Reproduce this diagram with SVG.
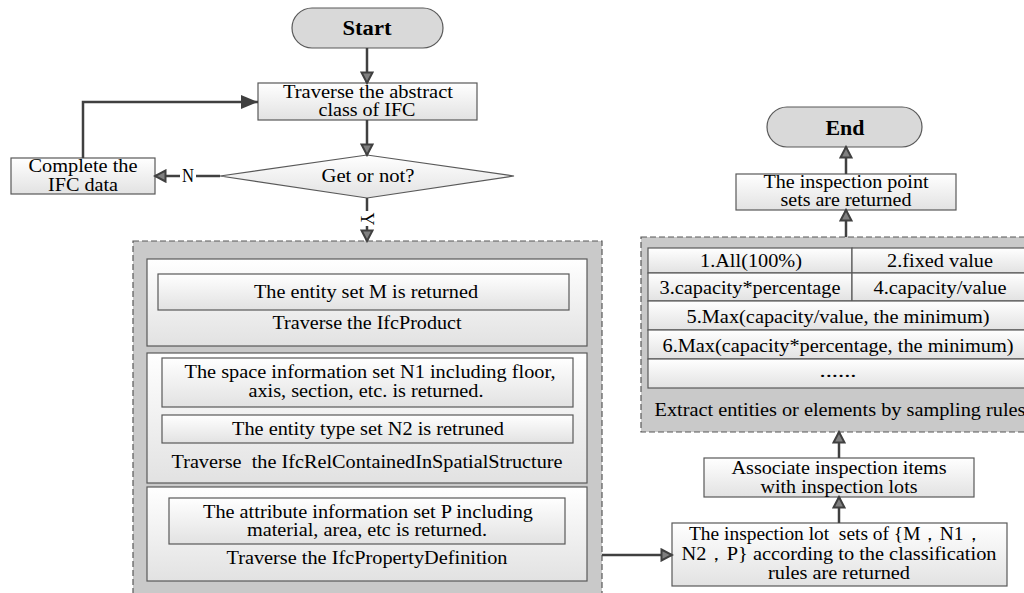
<svg xmlns="http://www.w3.org/2000/svg" width="1024" height="593" viewBox="0 0 1024 593">
<style>
.t{font-family:"Liberation Serif","Times New Roman","DejaVu Serif",serif;font-size:18px;fill:#000;text-anchor:middle}
.b{font-weight:bold;font-size:20px}
.box{fill:url(#g);stroke:#595959;stroke-width:1.2}
.pill{fill:#d9d9d9;stroke:#595959;stroke-width:1.2}
.cont{fill:#c9c9c9;stroke:#595959;stroke-width:1.2;stroke-dasharray:6 3}
.ln{fill:none;stroke:#404040;stroke-width:2.5}
</style>
<defs>
<linearGradient id="g" x1="0" y1="0" x2="0" y2="1">
<stop offset="0" stop-color="#ffffff"/>
<stop offset="1" stop-color="#e2e2e2"/>
</linearGradient>
<marker id="a" markerUnits="userSpaceOnUse" markerWidth="14" markerHeight="14" viewBox="0 0 14 14" refX="12" refY="7" orient="auto">
<path d="M1.5,1.5 L12,7 L1.5,12.5 z" fill="#808080" stroke="#404040" stroke-width="2"/>
</marker>
<marker id="s" markerUnits="userSpaceOnUse" markerWidth="20" markerHeight="16" viewBox="0 0 20 16" refX="18" refY="8" orient="auto">
<path d="M1,1 L18,8 L1,15 z" fill="#404040"/>
</marker>
</defs>
<rect width="1024" height="593" fill="#ffffff"/>

<g id="start">
<rect class="pill" x="292" y="8" width="151" height="40" rx="20"/>
<text class="t b" x="367" y="35" textLength="49" lengthAdjust="spacingAndGlyphs">Start</text>
</g>
<g id="traverse-abstract">
<rect class="box" x="258" y="83" width="219" height="37"/>
<text class="t" x="368" y="98" textLength="170" lengthAdjust="spacingAndGlyphs">Traverse the abstract</text>
<text class="t" x="367" y="116" textLength="97" lengthAdjust="spacingAndGlyphs">class of IFC</text>
</g>
<g id="decision">
<polygon points="220,176 367,155 514,176 367,198" fill="url(#g)" stroke="#595959" stroke-width="1.2"/>
<text class="t" x="368" y="182" textLength="93" lengthAdjust="spacingAndGlyphs">Get or not?</text>
</g>
<g id="complete">
<rect class="box" x="11" y="158" width="144" height="36"/>
<text class="t" x="83" y="172" textLength="109" lengthAdjust="spacingAndGlyphs">Complete the</text>
<text class="t" x="83" y="191" textLength="70" lengthAdjust="spacingAndGlyphs">IFC data</text>
</g>

<g id="ifc-container">
<rect class="cont" x="133" y="241" width="469" height="360"/>
<g id="panel-product">
<rect class="box" x="147" y="259" width="440" height="87"/>
<rect class="box" x="158" y="274" width="411" height="36"/>
<text class="t" x="366" y="298" textLength="224" lengthAdjust="spacingAndGlyphs">The entity set M is returned</text>
<text class="t" x="367" y="329" textLength="189" lengthAdjust="spacingAndGlyphs">Traverse the IfcProduct</text>
</g>
<g id="panel-spatial">
<rect class="box" x="147" y="353" width="440" height="130"/>
<rect class="box" x="162" y="358" width="411" height="49"/>
<text class="t" x="370" y="378" textLength="371" lengthAdjust="spacingAndGlyphs">The space information set N1 including floor,</text>
<text class="t" x="366" y="397" textLength="235" lengthAdjust="spacingAndGlyphs">axis, section, etc. is returned.</text>
<rect class="box" x="162" y="415" width="411" height="28"/>
<text class="t" x="368" y="435" textLength="272" lengthAdjust="spacingAndGlyphs">The entity type set N2 is retruned</text>
<text class="t" x="367" y="468" textLength="391" lengthAdjust="spacingAndGlyphs" xml:space="preserve">Traverse  the IfcRelContainedInSpatialStructure</text>
</g>
<g id="panel-property">
<rect class="box" x="147" y="487" width="440" height="94"/>
<rect class="box" x="169" y="498" width="396" height="46"/>
<text class="t" x="368" y="518" textLength="330" lengthAdjust="spacingAndGlyphs">The attribute information set P including</text>
<text class="t" x="367" y="536" textLength="240" lengthAdjust="spacingAndGlyphs">material, area, etc is returned.</text>
<text class="t" x="367" y="564" textLength="281" lengthAdjust="spacingAndGlyphs">Traverse the IfcPropertyDefinition</text>
</g>
</g>

<g id="lot-sets">
<rect class="box" x="672" y="523" width="335" height="63"/>
<text class="t" x="836" y="540" textLength="294" lengthAdjust="spacingAndGlyphs" xml:space="preserve">The inspection lot  sets of {M，N1，</text>
<text class="t" x="839" y="560" textLength="315" lengthAdjust="spacingAndGlyphs">N2，P} according to the classification</text>
<text class="t" x="839" y="579" textLength="142" lengthAdjust="spacingAndGlyphs">rules are returned</text>
</g>
<g id="associate">
<rect class="box" x="704" y="458" width="270" height="39"/>
<text class="t" x="839" y="474" textLength="215" lengthAdjust="spacingAndGlyphs">Associate inspection items</text>
<text class="t" x="839" y="493" textLength="157" lengthAdjust="spacingAndGlyphs">with inspection lots</text>
</g>

<g id="sampling-container">
<rect class="cont" x="641" y="237" width="400" height="195"/>
<g id="rules-table">
<rect class="box" x="648" y="248" width="204" height="25"/>
<rect class="box" x="852" y="248" width="180" height="25"/>
<rect class="box" x="648" y="273" width="204" height="28"/>
<rect class="box" x="852" y="273" width="180" height="28"/>
<rect class="box" x="648" y="301" width="384" height="29"/>
<rect class="box" x="648" y="330" width="384" height="29"/>
<rect class="box" x="648" y="359" width="384" height="29"/>
<text class="t" x="751" y="267" textLength="102" lengthAdjust="spacingAndGlyphs">1.All(100%)</text>
<text class="t" x="940" y="267" textLength="106" lengthAdjust="spacingAndGlyphs">2.fixed value</text>
<text class="t" x="750" y="294" textLength="181" lengthAdjust="spacingAndGlyphs">3.capacity*percentage</text>
<text class="t" x="940" y="294" textLength="133" lengthAdjust="spacingAndGlyphs">4.capacity/value</text>
<text class="t" x="838" y="323" textLength="303" lengthAdjust="spacingAndGlyphs">5.Max(capacity/value, the minimum)</text>
<text class="t" x="838" y="352" textLength="351" lengthAdjust="spacingAndGlyphs">6.Max(capacity*percentage, the minimum)</text>
<text class="t" x="838" y="377" textLength="37" lengthAdjust="spacingAndGlyphs">......</text>
</g>
<text class="t" x="840" y="416" textLength="371" lengthAdjust="spacingAndGlyphs">Extract entities or elements by sampling rules</text>
</g>

<g id="point-sets">
<rect class="box" x="736" y="174" width="220" height="36"/>
<text class="t" x="846" y="188" textLength="165" lengthAdjust="spacingAndGlyphs">The inspection point</text>
<text class="t" x="846" y="206" textLength="131" lengthAdjust="spacingAndGlyphs">sets are returned</text>
</g>
<g id="end">
<rect class="pill" x="767" y="107" width="155" height="40" rx="20"/>
<text class="t b" x="845" y="135" textLength="39" lengthAdjust="spacingAndGlyphs">End</text>
</g>

<g id="connectors">
<line class="ln" x1="367" y1="48" x2="367" y2="83" marker-end="url(#a)"/>
<line class="ln" x1="367" y1="120" x2="367" y2="155" marker-end="url(#a)"/>
<line class="ln" x1="220" y1="176" x2="196" y2="176"/>
<line class="ln" x1="180" y1="176" x2="155" y2="176" marker-end="url(#a)"/>
<text class="t" x="188" y="182" textLength="12" lengthAdjust="spacingAndGlyphs">N</text>
<path class="ln" d="M83,158 V102 H258" marker-end="url(#s)"/>
<line class="ln" x1="367" y1="198" x2="367" y2="211"/>
<text class="t" x="0" y="0" transform="translate(361,219) rotate(90)" textLength="13" lengthAdjust="spacingAndGlyphs">Y</text>
<line class="ln" x1="367" y1="226" x2="367" y2="241" marker-end="url(#a)"/>
<line class="ln" x1="602" y1="555" x2="672" y2="555" marker-end="url(#a)"/>
<line class="ln" x1="839" y1="523" x2="839" y2="497" marker-end="url(#a)"/>
<line class="ln" x1="839" y1="458" x2="839" y2="432" marker-end="url(#a)"/>
<line class="ln" x1="846" y1="237" x2="846" y2="210" marker-end="url(#a)"/>
<line class="ln" x1="846" y1="174" x2="846" y2="147" marker-end="url(#a)"/>
</g>
</svg>
